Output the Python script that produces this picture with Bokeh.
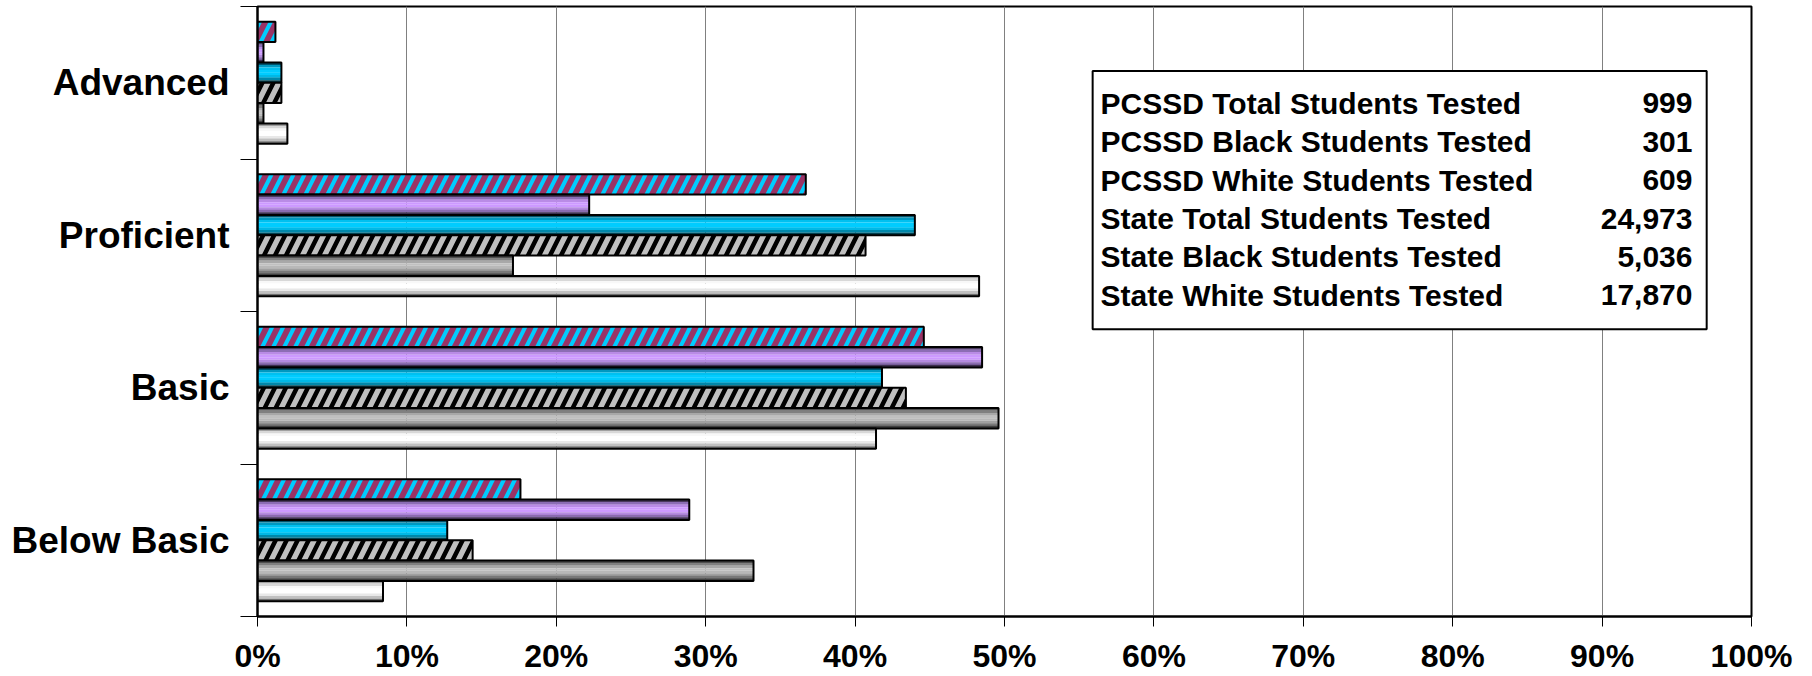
from bokeh.plotting import figure
from bokeh.models import Range1d, FixedTicker, PrintfTickFormatter
from bokeh.core.properties import value
from bokeh.embed import file_html
from bokeh.resources import INLINE

# ---- data ----
categories = ["Below Basic", "Basic", "Proficient", "Advanced"]
pcssd_total = [17.6, 44.6, 36.7, 1.2]
pcssd_black = [28.9, 48.5, 22.2, 0.4]
pcssd_white = [12.7, 41.8, 44.0, 1.6]
state_total = [14.4, 43.4, 40.7, 1.6]
state_black = [33.2, 49.6, 17.1, 0.4]
state_white = [8.4, 41.4, 48.3, 2.0]
x_ticks = list(range(0, 101, 10))

table_labels = ["PCSSD Total Students Tested", "PCSSD Black Students Tested",
                "PCSSD White Students Tested", "State Total Students Tested",
                "State Black Students Tested", "State White Students Tested"]
table_counts = [999, 301, 609, 24973, 5036, 17870]

FONT = value("Liberation Sans")

p = figure(width=1812, height=676, x_range=Range1d(0, 100), y_range=Range1d(0, 4),
           output_backend="svg", toolbar_location=None,
           min_border_left=257, min_border_right=61, min_border_top=6, min_border_bottom=0)
p.background_fill_color = "white"
p.border_fill_color = "white"
p.outline_line_color = "black"
p.outline_line_width = 2

# x axis
p.xaxis.ticker = FixedTicker(ticks=x_ticks)
p.xaxis.formatter = PrintfTickFormatter(format="%d%%")
p.xaxis.major_label_text_font = "Liberation Sans"
p.xaxis.major_label_text_font_style = "bold"
p.xaxis.major_label_text_font_size = "32px"
p.xaxis.major_label_text_color = "black"
p.xaxis.axis_line_color = "black"
p.xaxis.axis_line_width = 2
p.xaxis.major_tick_out = 10
p.xaxis.major_tick_in = 0
p.xaxis.major_tick_line_color = "black"
p.xaxis.minor_tick_line_color = None
p.xaxis.major_label_standoff = 11

# y axis (numeric, category centers at k+0.5, minor ticks at boundaries)
centers = [k + 0.5 for k in range(len(categories))]
p.yaxis.ticker = FixedTicker(ticks=centers, minor_ticks=list(range(len(categories) + 1)))
p.yaxis.major_label_overrides = {c: lab for c, lab in zip(centers, categories)}
p.yaxis.major_label_text_font = "Liberation Sans"
p.yaxis.major_label_text_font_style = "bold"
p.yaxis.major_label_text_font_size = "37px"
p.yaxis.major_label_text_color = "black"
p.yaxis.axis_line_color = "black"
p.yaxis.axis_line_width = 2
p.yaxis.major_tick_line_color = None
p.yaxis.major_tick_out = 0
p.yaxis.major_tick_in = 0
p.yaxis.minor_tick_line_color = "black"
p.yaxis.minor_tick_out = 17
p.yaxis.minor_tick_in = 0
p.yaxis.major_label_standoff = 11

p.xgrid.ticker = FixedTicker(ticks=x_ticks)
p.xgrid.grid_line_color = "#808080"
p.xgrid.grid_line_width = 1
p.ygrid.visible = False

# ---- bars ----
series = [pcssd_total, pcssd_black, pcssd_white, state_total, state_black, state_white]
hatch_styles = {0: ("#993366", "#00CCFF", 4), 3: ("#C0C0C0", "black", 4.5)}
shades = {
    1: ["#4a3a5e", "#8c6db5", "#b98be6", "#cc99ff", "#cc99ff", "#b48ae0", "#8a6bb0", "#3e3050"],
    2: ["#00536b", "#0098c0", "#00c0f0", "#00ccff", "#00ccff", "#00b8e6", "#0088aa", "#00404f"],
    4: ["#505050", "#808080", "#a8a8a8", "#c0c0c0", "#b8b8b8", "#a0a0a0", "#787878", "#404040"],
    5: ["#a0a0a0", "#d8d8d8", "#f8f8f8", "#ffffff", "#ffffff", "#e8e8e8", "#c0c0c0", "#707070"],
}
n = len(series)
h = 0.8 / n
for i, vals in enumerate(series):
    yc = [c + (n / 2 - 0.5 - i) * h for c in centers]
    if i in hatch_styles:
        fc, hc, hw = hatch_styles[i]
        p.hbar(y=yc, left=0, right=vals, height=h, fill_color=fc,
               hatch_pattern="/", hatch_color=hc, hatch_scale=22, hatch_weight=hw,
               line_color="black", line_width=2)
    else:
        bands = shades[i]
        nb = len(bands)
        bh = h / nb
        for b, col in enumerate(bands):
            yb = [y + h / 2 - (b + 0.5) * bh for y in yc]
            p.hbar(y=yb, left=0, right=vals, height=bh * 1.05, fill_color=col, line_color=None)
        p.hbar(y=yc, left=0, right=vals, height=h, fill_color=None,
               line_color="black", line_width=2)

# ---- counts table ----
p.quad(left=[55.9], right=[97.0], top=[3.577], bottom=[1.884],
       fill_color="white", line_color="black", line_width=2)
row_y = [3.365 - r * 0.2519 for r in range(len(table_labels))]
p.text(x=[56.43] * len(table_labels), y=row_y, text=table_labels,
       text_font=FONT, text_font_style="bold", text_font_size="30px",
       text_baseline="middle", text_align="left", text_color="black")
p.text(x=[96.05] * len(table_counts), y=row_y, text=[f"{c:,}" for c in table_counts],
       text_font=FONT, text_font_style="bold", text_font_size="30px",
       text_baseline="middle", text_align="right", text_color="black")

open("out.html", "w").write(file_html(p, INLINE))
